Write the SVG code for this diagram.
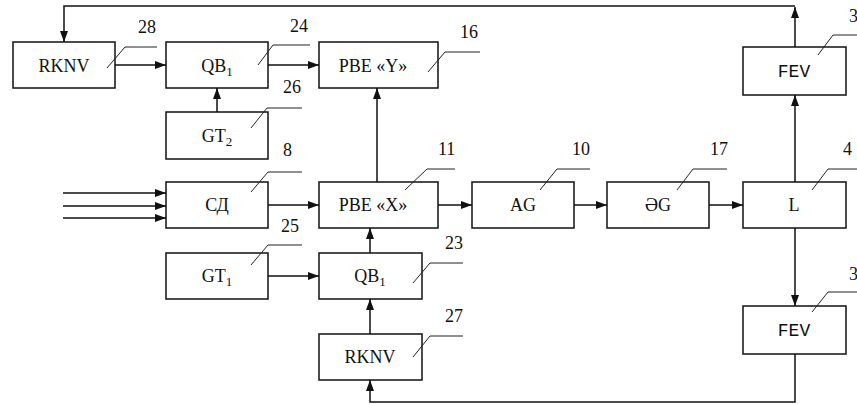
<svg xmlns="http://www.w3.org/2000/svg" width="857" height="404" viewBox="0 0 857 404">
<style>
.box{fill:#fff;stroke:#111;stroke-width:1.5}
.t{font-family:"Liberation Serif","Times New Roman",serif;font-size:18px;fill:#111;text-anchor:middle}
.m{font-family:"Liberation Mono","Courier New",monospace;font-size:18px;fill:#111;text-anchor:middle}
.n{font-family:"Liberation Serif","Times New Roman",serif;font-size:18px;fill:#111}
.c{fill:none;stroke:#111;stroke-width:1.5}
.ld{fill:none;stroke:#222;stroke-width:1}
</style>
<defs>
<marker id="ah" markerUnits="userSpaceOnUse" markerWidth="12" markerHeight="8" refX="11" refY="4" orient="auto">
<path d="M0,0 L11,4 L0,8 Z" fill="#111"/>
</marker>
</defs>
<rect width="857" height="404" fill="#fff"/>
<g id="connectors">
<path class="c" d="M795,47 V7" marker-end="url(#ah)"/>
<path class="c" d="M795,6 H64 V42" marker-end="url(#ah)"/>
<path class="c" d="M115,65 H166" marker-end="url(#ah)"/>
<path class="c" d="M268,65 H319" marker-end="url(#ah)"/>
<path class="c" d="M217,112 V88" marker-end="url(#ah)"/>
<path class="c" d="M377,182 V88" marker-end="url(#ah)"/>
<path class="c" d="M63,193 H166" marker-end="url(#ah)"/>
<path class="c" d="M63,206 H166" marker-end="url(#ah)"/>
<path class="c" d="M63,218 H166" marker-end="url(#ah)"/>
<path class="c" d="M268,205 H319" marker-end="url(#ah)"/>
<path class="c" d="M438,205 H472" marker-end="url(#ah)"/>
<path class="c" d="M574,205 H607" marker-end="url(#ah)"/>
<path class="c" d="M709,205 H743" marker-end="url(#ah)"/>
<path class="c" d="M795,182 V95" marker-end="url(#ah)"/>
<path class="c" d="M795,228 V306" marker-end="url(#ah)"/>
<path class="c" d="M268,276 H319" marker-end="url(#ah)"/>
<path class="c" d="M370,253 V228" marker-end="url(#ah)"/>
<path class="c" d="M370,334 V299" marker-end="url(#ah)"/>
<path class="c" d="M795,354 V402 H370 V380" marker-end="url(#ah)"/>
</g>
<g id="n28"><rect class="box" x="13" y="42" width="102" height="46"/><text class="t" x="64" y="72">RKNV</text><path class="ld" d="M107,68 L125,47 H157"/><text class="n" x="138" y="33">28</text></g>
<g id="n24"><rect class="box" x="166" y="42" width="102" height="46"/><text class="t" x="217" y="72">QB<tspan font-size="13" dy="4">1</tspan></text><path class="ld" d="M258,65 L273,45 H310"/><text class="n" x="290" y="32">24</text></g>
<g id="n16"><rect class="box" x="319" y="42" width="119" height="46"/><text class="t" x="373" y="72">PBE «Y»</text><path class="ld" d="M428,72 L445,52 H480"/><text class="n" x="460" y="38">16</text></g>
<g id="n26"><rect class="box" x="166" y="112" width="102" height="47"/><text class="t" x="217" y="142">GT<tspan font-size="13" dy="4">2</tspan></text><path class="ld" d="M251,128 L267,108 H302"/><text class="n" x="283" y="93">26</text></g>
<g id="n8"><rect class="box" x="166" y="182" width="102" height="46"/><text class="t" x="217" y="211">СД</text><path class="ld" d="M251,192 L268,172 H302"/><text class="n" x="283" y="156">8</text></g>
<g id="n11"><rect class="box" x="319" y="182" width="119" height="46"/><text class="t" x="373" y="211">PBE «X»</text><path class="ld" d="M405,190 L427,169 H455"/><text class="n" x="438" y="155">11</text></g>
<g id="n10"><rect class="box" x="472" y="182" width="102" height="46"/><text class="t" x="523" y="211">AG</text><path class="ld" d="M540,190 L557,169 H590"/><text class="n" x="572" y="155">10</text></g>
<g id="n17"><rect class="box" x="607" y="182" width="102" height="46"/><text class="t" x="658" y="211">ӘG</text><path class="ld" d="M677,190 L693,169 H727"/><text class="n" x="710" y="155">17</text></g>
<g id="n4"><rect class="box" x="743" y="182" width="103" height="46"/><text class="t" x="794" y="211">L</text><path class="ld" d="M812,190 L828,169 H857"/><text class="n" x="843" y="155">4</text></g>
<g id="n3a"><rect class="box" x="743" y="47" width="103" height="48"/><text class="m" x="794" y="77">FEV</text><path class="ld" d="M818,55 L833,35 H857"/><text class="n" x="849" y="22">3</text></g>
<g id="n25"><rect class="box" x="166" y="253" width="102" height="46"/><text class="t" x="217" y="282">GT<tspan font-size="13" dy="4">1</tspan></text><path class="ld" d="M251,265 L268,245 H302"/><text class="n" x="281" y="232">25</text></g>
<g id="n23"><rect class="box" x="319" y="253" width="103" height="46"/><text class="t" x="370" y="282">QB<tspan font-size="13" dy="4">1</tspan></text><path class="ld" d="M413,283 L430,263 H463"/><text class="n" x="445" y="249">23</text></g>
<g id="n27"><rect class="box" x="319" y="334" width="103" height="46"/><text class="t" x="370" y="363">RKNV</text><path class="ld" d="M413,357 L430,336 H463"/><text class="n" x="445" y="322">27</text></g>
<g id="n3b"><rect class="box" x="743" y="306" width="103" height="48"/><text class="m" x="794" y="336">FEV</text><path class="ld" d="M812,312 L828,292 H857"/><text class="n" x="849" y="280">3</text></g>
</svg>
